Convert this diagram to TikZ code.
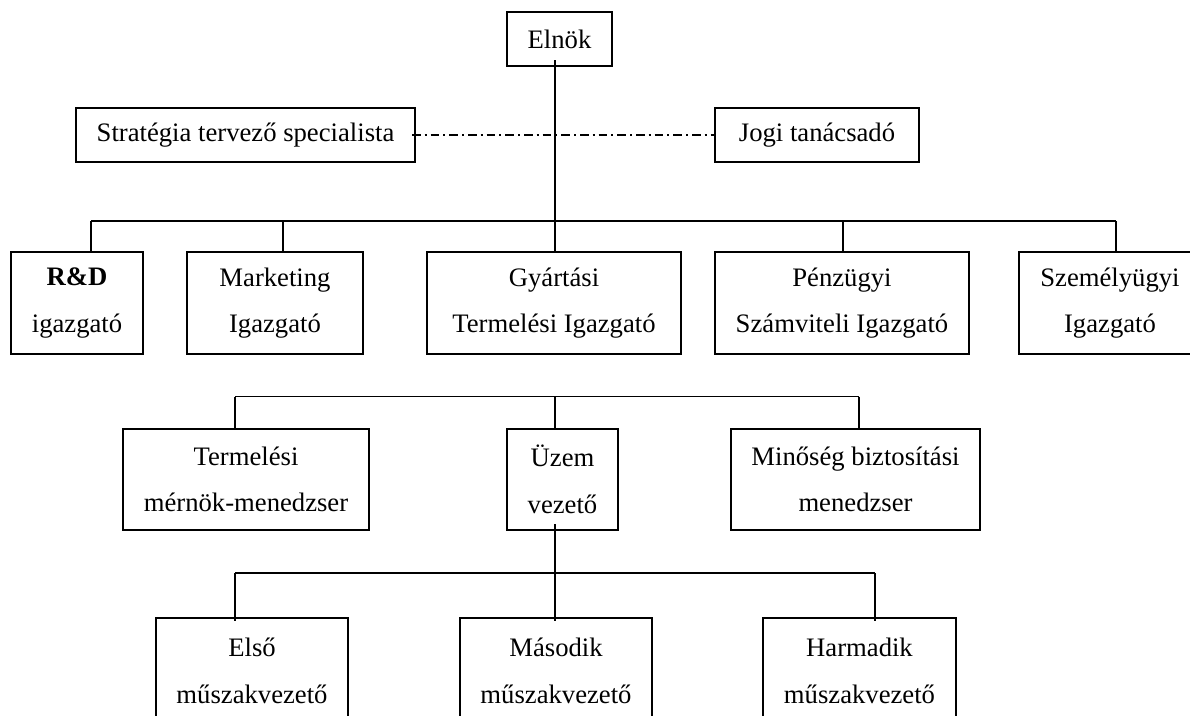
\documentclass[tikz,border=0pt]{standalone}
\usepackage{fontspec}
\setmainfont{Liberation Serif}
\usetikzlibrary{calc}

\tikzset{
  orgbox/.style={draw=black, line width=1.2pt, fill=none, inner sep=0pt, outer sep=0pt,
    align=center, font=\fontsize{20pt}{35pt}\selectfont},
  wh/.style 2 args={minimum width=#1*0.75pt, minimum height=#2*0.75pt},
  link/.style={draw=black, line width=1.2pt},
  advisory/.style={draw=black, line width=1.1pt, dash pattern=on 6.5pt off 3pt on 1.5pt off 3pt}
}

\begin{document}
\begin{tikzpicture}[x=0.75pt, y=-0.75pt]
  \useasboundingbox (0,0) rectangle (1190,715);
  \clip (0,0) rectangle (1190,715);
  \fill[white] (0,0) rectangle (1190,715);

  % top of the hierarchy and staff positions
  \node[orgbox, wh={105}{54}] (elnok) at (559.5,39) {Elnök};
  \node[orgbox, wh={339}{54}] (strat) at (245.5,135) {Stratégia tervező specialista};
  \node[orgbox, wh={204}{54}] (jogi)  at (817,135) {Jogi tanácsadó};

  % directors
  \node[orgbox, wh={132}{102}] (rd)    at (77,303)   {\textbf{R\&D}\\igazgató};
  \node[orgbox, wh={176}{102}] (mkt)   at (275,303)  {Marketing\\Igazgató};
  \node[orgbox, wh={254}{102}] (gyart) at (554,303)  {Gyártási\\Termelési Igazgató};
  \node[orgbox, wh={254}{102}] (penz)  at (842,303)  {Pénzügyi\\Számviteli Igazgató};
  \node[orgbox, wh={182}{102}] (szem)  at (1110,303) {Személyügyi\\Igazgató};

  % production managers
  \node[orgbox, wh={246}{101}] (term) at (246,479.5)  {Termelési\\mérnök-menedzser};
  \node[orgbox, wh={111}{101}] (uzem) at (562.5,479.5) {Üzem\\vezető};
  \node[orgbox, wh={249}{101}] (minos) at (855.5,479.5) {Minőség biztosítási\\menedzser};

  % shift leaders
  \node[orgbox, wh={192}{106}] (elso) at (252,671)   {Első\\műszakvezető};
  \node[orgbox, wh={192}{106}] (masod) at (556,671)  {Második\\műszakvezető};
  \node[orgbox, wh={193}{106}] (harm) at (859.5,671) {Harmadik\\műszakvezető};

  % junction points of the bars
  \coordinate (t1) at (555,221);
  \coordinate (a1) at (91,221);
  \coordinate (a2) at (283,221);
  \coordinate (a4) at (843,221);
  \coordinate (a5) at (1116,221);

  \coordinate (t2) at (555,396.5);
  \coordinate (b1) at (235,396.5);
  \coordinate (b3) at (859,396.5);

  \coordinate (t3) at (555,573);
  \coordinate (c1) at (235,573);
  \coordinate (c3) at (875,573);

  % advisory link
  \draw[advisory] ($(strat.east)+(-3,0)$) -- (jogi.west);

  % president to directors
  \draw[link] ($(elnok.south -| t1)+(0,-6)$) -- (t1);
  \draw[link] (a1) -- (a5);
  \draw[link] (a1) -- (a1 |- rd.north);
  \draw[link] (a2) -- (a2 |- mkt.north);
  \draw[link] (t1) -- (t1 |- gyart.north);
  \draw[link] (a4) -- (a4 |- penz.north);
  \draw[link] (a5) -- (a5 |- szem.north);

  % production level
  \draw[link] (b1) -- (b3);
  \draw[link] (b1) -- (b1 |- term.north);
  \draw[link] (t2) -- (t2 |- uzem.north);
  \draw[link] (b3) -- (b3 |- minos.north);

  % shift level
  \draw[link] ($(uzem.south -| t3)+(0,-6)$) -- ($(t3 |- masod.north)+(0,3)$);
  \draw[link] (c1) -- (c3);
  \draw[link] (c1) -- ($(c1 |- elso.north)+(0,3)$);
  \draw[link] (c3) -- ($(c3 |- harm.north)+(0,3)$);
\end{tikzpicture}
\end{document}
